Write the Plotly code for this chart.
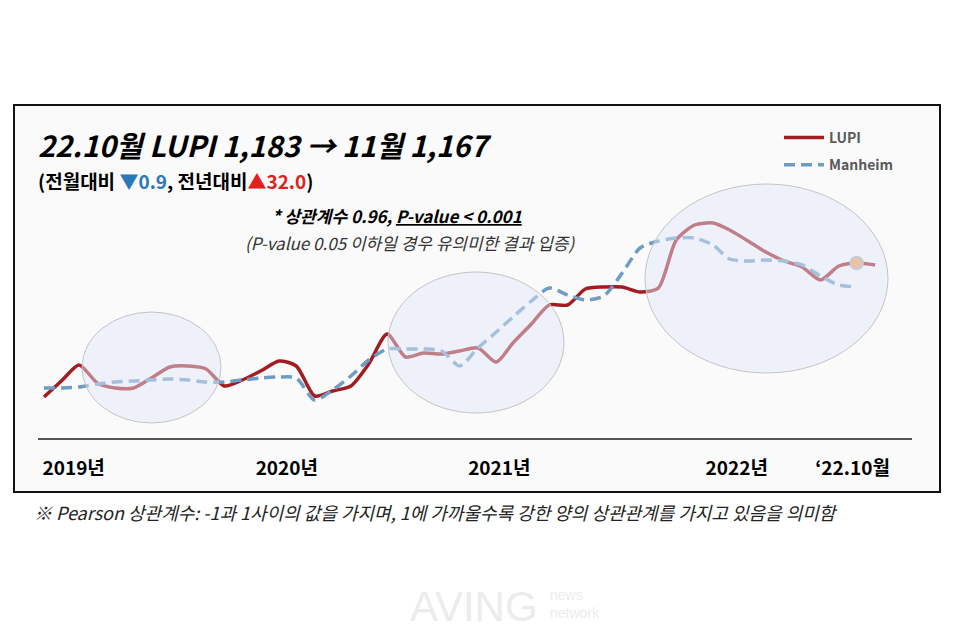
import pandas as pd
import plotly.graph_objects as go

W, H = 960, 640
OFF = 8  # page margin of the browser
FONT = "Noto Sans CJK KR, Noto Sans, sans-serif"

# monthly series, Jan 2019 .. Nov 2022 (levels, relative units)
START = "2019-01-01"
LUPI = [41, 58, 73, 55, 50, 50, 60, 71, 72, 69,
        52, 58, 67, 77, 72, 42, 47, 52, 74, 104,
        81, 85, 84, 87, 90, 76, 95, 114, 133, 133,
        149, 151, 151, 146, 150, 198, 213, 215, 208, 197,
        186, 177, 171, 158, 172, 175, 173]
MANHEIM = [50, 50, 51, 54, 56, 57, 58, 59, 58, 56,
           56, 58, 60, 61, 60, 38, 48, 62, 78, 89,
           89, 89, 87, 72, 90, 106, 121, 137, 150, 143,
           138, 142, 165, 190, 197, 200, 200, 193, 179, 177,
           178, 177, 173, 162, 153, 151]
HIGHLIGHT_MONTH = "2022-10-01"

TICK_LABELS = ["2019년", "2020년", "2021년", "2022년", "\u201822.10월"]
TICK_DATES = ["2019-02-20", "2020-02-14", "2021-02-06", "2022-03-13", "2022-09-24"]

lupi_x = pd.date_range(START, periods=len(LUPI), freq="MS")
man_x = pd.date_range(START, periods=len(MANHEIM), freq="MS")
hi_idx = list(lupi_x).index(pd.Timestamp(HIGHLIGHT_MONTH))


def px(x):
    return (x - OFF) / W


def py(y):
    return 1 - (y - OFF) / H


fig = go.Figure()
fig.add_trace(go.Scatter(x=lupi_x, y=LUPI, mode="lines", name="LUPI",
                         legendgroup="a",
                         line=dict(color="#a11d21", width=3.5, shape="spline", smoothing=0.7)))
fig.add_trace(go.Scatter(x=man_x, y=MANHEIM, mode="lines", name="Manheim",
                         legendgroup="b",
                         line=dict(color="#6e9cc3", width=3.5, dash="11px,6px",
                                   shape="spline", smoothing=0.7)))
fig.add_trace(go.Scatter(x=[lupi_x[hi_idx]], y=[LUPI[hi_idx]], mode="markers",
                         showlegend=False,
                         marker=dict(size=13, color="#f0a060",
                                     line=dict(color="#a9b4c8", width=1.5))))

# outer frame
shapes = [dict(type="rect", xref="paper", yref="paper",
               x0=px(14), x1=px(940), y0=py(492), y1=py(105),
               line=dict(color="#111", width=2), fillcolor="#fafafa", layer="below")]
# highlight ellipses
for x0, x1, y0, y1 in [(82, 221, 312, 423), (388, 564, 272, 413), (645, 888, 184, 373)]:
    shapes.append(dict(type="circle", xref="paper", yref="paper",
                       x0=px(x0), x1=px(x1), y0=py(y1), y1=py(y0),
                       line=dict(color="#c4c4c4", width=1),
                       fillcolor="rgba(225,233,248,0.48)", layer="above"))

annotations = [
    dict(text="22.10월 LUPI 1,183 \u2192 11월 1,167", x=px(36), y=py(144),
         font=dict(size=29, color="#000", style="italic", weight="bold")),
    dict(text="(전월대비 <span style='color:#2b78b8'>\u25bc0.9</span>, 전년대비"
              "<span style='color:#e0201b'>\u25b232.0</span>)",
         x=px(36), y=py(180), font=dict(size=19, color="#000", weight="bold")),
    dict(text="* 상관계수 0.96, <u>P-value &lt; 0.001</u>", x=px(397), y=py(216),
         xanchor="center", font=dict(size=17, color="#000", style="italic", weight="bold")),
    dict(text="(P-value 0.05 이하일 경우 유의미한 결과 입증)", x=px(410), y=py(242),
         xanchor="center", font=dict(size=17, color="#333", style="italic")),
    dict(text="\u203b Pearson 상관계수: -1과 1사이의 값을 가지며, 1에 가까울수록 강한 양의 "
              "상관관계를 가지고 있음을 의미함",
         x=px(32), y=py(512), font=dict(size=18, color="#222", style="italic")),
    dict(text="AVING", x=px(408), y=py(606),
         font=dict(size=42, color="#ececec", family="Liberation Sans Narrow, sans-serif")),
    dict(text="news<br>network", x=px(548), y=py(604), align="left",
         font=dict(size=14, color="#ececec", family="Liberation Sans Narrow, sans-serif")),
]
for a in annotations:
    a.update(xref="paper", yref="paper", showarrow=False, yanchor="middle")
    a.setdefault("xanchor", "left")


def month_to_date(m):
    return pd.Timestamp(START) + pd.Timedelta(days=m * 30.44)


x_range = [month_to_date((38 - 44) / 18.07), month_to_date((912 - 44) / 18.07)]

fig.update_layout(
    width=W, height=H,
    margin=dict(l=0, r=0, t=0, b=0),
    paper_bgcolor="white",
    plot_bgcolor="rgba(0,0,0,0)",
    font=dict(family=FONT),
    shapes=shapes,
    annotations=annotations,
    showlegend=True,
    legend=dict(x=px(779), y=py(122), xanchor="left", yanchor="top",
                bgcolor="rgba(0,0,0,0)", tracegroupgap=6, itemwidth=40,
                font=dict(size=14, color="#595959", weight="bold")),
    xaxis=dict(domain=[px(38), px(912)], range=x_range, showgrid=False, zeroline=False,
               showline=True, linecolor="#555", linewidth=1.5,
               tickvals=TICK_DATES, ticktext=TICK_LABELS, ticks="",
               ticklabelstandoff=12,
               tickfont=dict(size=19, color="#000", weight="bold")),
    yaxis=dict(domain=[py(438), py(105)], range=[0, 333], visible=False,
               showgrid=False, zeroline=False),
)

fig.write_html("out.html")
